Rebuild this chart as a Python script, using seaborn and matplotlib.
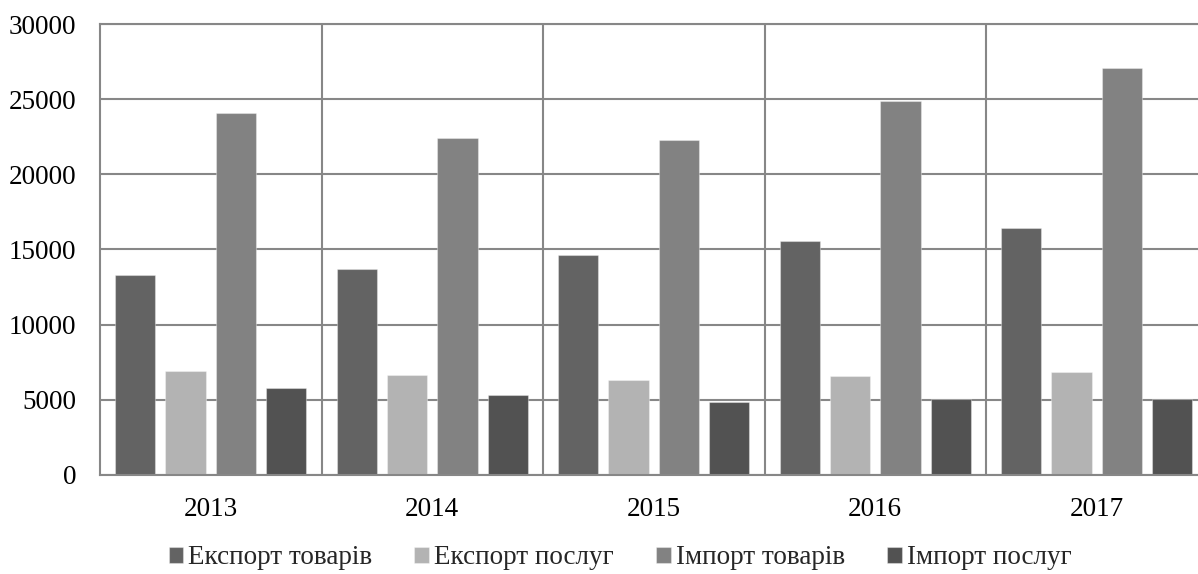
import matplotlib
matplotlib.use("Agg")
import matplotlib.pyplot as plt
import seaborn as sns
import pandas as pd

# Foreign trade of goods and services by year
years = ["2013", "2014", "2015", "2016", "2017"]
series_names = ["Експорт товарів", "Експорт послуг", "Імпорт товарів", "Імпорт послуг"]
export_goods = [13300, 13730, 14660, 15550, 16430]
export_services = [6940, 6650, 6320, 6610, 6850]
import_goods = [24080, 22400, 22260, 24900, 27090]
import_services = [5810, 5300, 4860, 5080, 5080]

colors = ["#636363", "#b3b3b3", "#828282", "#525252"]

values = [export_goods, export_services, import_goods, import_services]
df = pd.DataFrame({
    "year": [y for s in values for y in years],
    "series": [n for n, s in zip(series_names, values) for _ in s],
    "value": [v for s in values for v in s],
})

sns.set_theme(style="white")
plt.rcParams["font.family"] = ["Liberation Serif", "DejaVu Serif"]

fig = plt.figure(figsize=(11.98, 5.74), dpi=100)
ax = fig.add_axes([100 / 1198, 99 / 574, 1107.5 / 1198, 451 / 574])

sns.barplot(
    data=df, x="year", y="value", hue="series", hue_order=series_names,
    order=years, palette=colors, width=0.908, gap=0.2,
    edgecolor=(1, 1, 1, 0.35), linewidth=0.8, errorbar=None, ax=ax,
    saturation=1,
)

grid_color = "#878787"
ax.set_xlim(-0.5, 4.5)
ax.set_ylim(0, 30000)
ax.set_yticks(range(0, 30001, 5000))
ax.set_xticks([0.5, 1.5, 2.5, 3.5], minor=True)
ax.set_axisbelow(True)
ax.grid(axis="y", which="major", color=grid_color, linewidth=1.5)
ax.grid(axis="x", which="minor", color=grid_color, linewidth=1.5)
ax.grid(axis="x", which="major", visible=False)

for side in ["left", "bottom", "top", "right"]:
    ax.spines[side].set_visible(True)
    ax.spines[side].set_color(grid_color)
    ax.spines[side].set_linewidth(1.5)

ax.tick_params(axis="both", which="both", length=0, labelsize=19.5, colors="black")
ax.tick_params(axis="y", pad=17)
ax.tick_params(axis="x", pad=16)
ax.set_xlabel("")
ax.set_ylabel("")

handles, labels = ax.get_legend_handles_labels()
ax.get_legend().remove()
fig.legend(
    handles, labels, loc="lower center", bbox_to_anchor=(0.5175, -0.036),
    ncol=4, frameon=False, fontsize=19.5, handlelength=0.55, handleheight=0.55,
    handletextpad=0.18, columnspacing=1.55,
)

fig.savefig("out.png", dpi=100, facecolor="white")
